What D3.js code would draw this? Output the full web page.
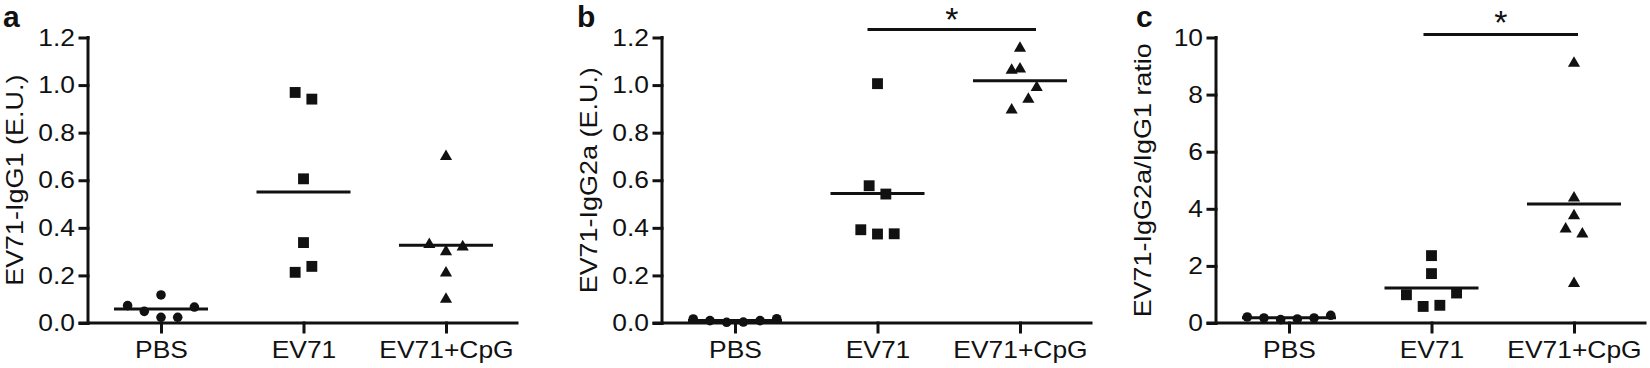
<!DOCTYPE html>
<html>
<head>
<meta charset="utf-8">
<script src="https://cdn.jsdelivr.net/npm/d3@7"></script>
<style>
  body { margin: 0; background: #fff; }
  text { font-family: "Liberation Sans", Arial, sans-serif; fill: #111; }
</style>
</head>
<body>
<div id="chart"></div>
<script>
// groups on the x axis
var categories = ["PBS", "EV71", "EV71+CpG"];

// panel a: EV71-IgG1 (E.U.)
var iggPBS  = [0.073, 0.049, 0.118, 0.024, 0.024, 0.067];
var iggEV71 = [0.969, 0.941, 0.606, 0.338, 0.213, 0.238];
var iggCpG  = [0.70, 0.33, 0.30, 0.32, 0.21, 0.10];

// panel b: EV71-IgG2a (E.U.)
var igg2aPBS  = [0.017, 0.010, 0.003, 0.004, 0.010, 0.018];
var igg2aEV71 = [1.006, 0.577, 0.542, 0.392, 0.374, 0.375];
var igg2aCpG  = [1.155, 1.062, 1.068, 0.990, 0.940, 0.895];

// panel c: IgG2a/IgG1 ratio
var ratioPBS  = [0.21, 0.175, 0.117, 0.14, 0.175, 0.27];
var ratioEV71 = [2.36, 1.73, 0.99, 1.05, 0.58, 0.62];
var ratioCpG  = [9.10, 4.38, 3.76, 3.29, 3.12, 1.38];

// side-by-side slots of the column scatter (GraphPad style)
var slotsA = [[-2, -1, 0, 0, 1, 2], [-0.5, 0.5, 0, 0, -0.5, 0.5], [0, -1, 0, 1, 0, 0]];
var slotsB = [[-2.5, -1.5, -0.5, 0.5, 1.5, 2.5], [0, -0.5, 0.5, -1, 0, 1], [0, -0.5, 0, 1, 0.5, -0.5]];
var slotsC = [[-2.5, -1.5, -0.5, 0.5, 1.5, 2.5], [0, 0, -1.5, 1.5, -0.5, 0.5], [0, 0, 0, -0.5, 0.5, 0]];

var ticks12 = [0, 0.2, 0.4, 0.6, 0.8, 1.0, 1.2];
var ticks10 = [0, 2, 4, 6, 8, 10];

var width = 1650, height = 368;
var yBottom = 323, yTop = 37.5;
var slotW = 16.7, meanHalf = 47;

var svg = d3.select("#chart").append("svg")
    .attr("width", width)
    .attr("height", height);

// the source font is a bit wider than Arial, so stretch text sideways
function widen(sel, k) {
  sel.each(function() {
    var w = this.getComputedTextLength();
    d3.select(this).attr("textLength", w * k).attr("lengthAdjust", "spacingAndGlyphs");
  });
}

var panels = [
  { letter: "a", x0: 88, letterX: 3, title: "EV71-IgG1 (E.U.)",
    domain: [0, 1.2], ticks: ticks12, fmt: d3.format(".1f"),
    series: [iggPBS, iggEV71, iggCpG], slots: slotsA, sig: null },
  { letter: "b", x0: 662, letterX: 577, title: "EV71-IgG2a (E.U.)",
    domain: [0, 1.2], ticks: ticks12, fmt: d3.format(".1f"),
    series: [igg2aPBS, igg2aEV71, igg2aCpG], slots: slotsB,
    sig: { from: 1, to: 2, y: 29.5, padL: -10, padR: 16, starY: 31 } },
  { letter: "c", x0: 1216, letterX: 1136, title: "EV71-IgG2a/IgG1 ratio",
    domain: [0, 10], ticks: ticks10, fmt: d3.format("d"),
    series: [ratioPBS, ratioEV71, ratioCpG], slots: slotsC,
    sig: { from: 1, to: 2, y: 34.5, padL: -8, padR: 4, starY: 34 } }
];

var shapes = [d3.symbolCircle, d3.symbolSquare, d3.symbolTriangle];
var shapeSizes = [72, 118, 64];

panels.forEach(function(p) {
  var g = svg.append("g");

  var x = d3.scalePoint()
      .domain(categories)
      .range([p.x0 + 73, p.x0 + 358]);

  var y = d3.scaleLinear()
      .domain(p.domain)
      .range([yBottom, yTop]);

  // y axis
  var yAxis = g.append("g")
      .attr("transform", "translate(" + p.x0 + ",0)")
      .call(d3.axisLeft(y).tickValues(p.ticks).tickFormat(p.fmt).tickSize(8).tickPadding(5));
  yAxis.select(".domain").attr("d", "M0," + yTop + "V" + yBottom);

  // x axis
  var xAxis = g.append("g")
      .attr("transform", "translate(0," + yBottom + ")")
      .call(d3.axisBottom(x).tickSize(9).tickPadding(9));
  xAxis.select(".domain").attr("d", "M" + (p.x0 - 8) + ",0H" + (p.x0 + 429));

  g.selectAll(".domain, .tick line")
      .attr("stroke", "#111")
      .attr("stroke-width", 3)
      .attr("stroke-linecap", "square");
  g.selectAll(".tick text")
      .style("font-family", "'Liberation Sans', Arial, sans-serif")
      .style("font-size", "24px")
      .attr("fill", "#111")
      .call(widen, 1.1);
  xAxis.selectAll(".tick text").attr("dy", "0.71em");

  // y axis title
  g.append("text")
      .attr("transform", "translate(" + (p.x0 - 65) + "," + ((yTop + yBottom) / 2) + ") rotate(-90)")
      .attr("text-anchor", "middle")
      .style("font-size", "24.5px")
      .text(p.title)
      .call(widen, 1.1);

  // panel letter
  g.append("text")
      .attr("x", p.letterX)
      .attr("y", 27)
      .style("font-size", "30px")
      .style("font-weight", "bold")
      .text(p.letter);

  // points and mean lines
  p.series.forEach(function(vals, i) {
    var cx = x(categories[i]);
    g.selectAll(".pt" + i)
      .data(vals)
      .enter().append("path")
      .attr("d", d3.symbol().type(shapes[i]).size(shapeSizes[i]))
      .attr("transform", function(d, j) {
        return "translate(" + (cx + p.slots[i][j] * slotW) + "," + y(d) + ")";
      })
      .attr("fill", "#111");

    var m = d3.mean(vals);
    g.append("line")
      .attr("x1", cx - meanHalf)
      .attr("x2", cx + meanHalf)
      .attr("y1", y(m))
      .attr("y2", y(m))
      .attr("stroke", "#111")
      .attr("stroke-width", 3);
  });

  // significance bar
  if (p.sig) {
    var xa = x(categories[p.sig.from]) + p.sig.padL,
        xb = x(categories[p.sig.to]) + p.sig.padR;
    g.append("line")
      .attr("x1", xa).attr("x2", xb)
      .attr("y1", p.sig.y).attr("y2", p.sig.y)
      .attr("stroke", "#111")
      .attr("stroke-width", 3);
    g.append("text")
      .attr("x", (xa + xb) / 2)
      .attr("y", p.sig.starY)
      .attr("text-anchor", "middle")
      .style("font-size", "34px")
      .text("*");
  }
});
</script>
</body>
</html>
